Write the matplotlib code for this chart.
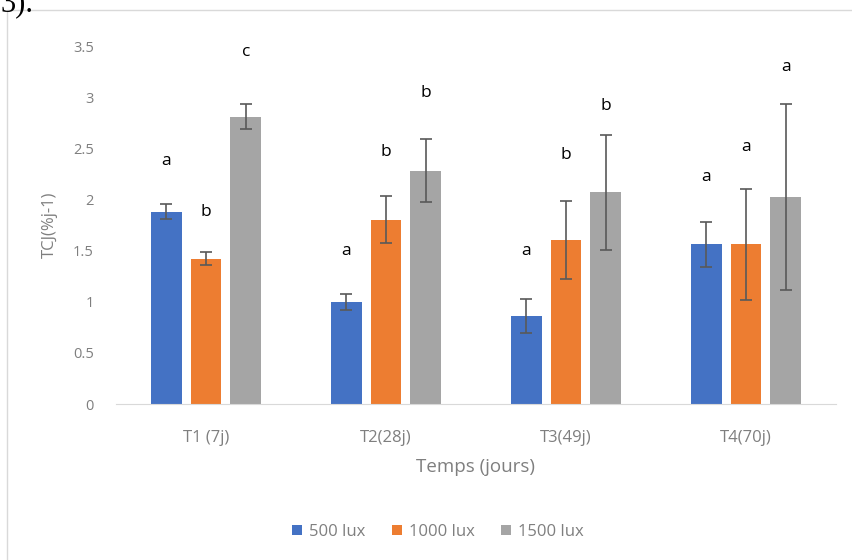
import matplotlib.pyplot as plt
import matplotlib.patches as mpatches
import numpy as np

# données
temps = ['T1 (7j)', 'T2(28j)', 'T3(49j)', 'T4(70j)']
series = ['500 lux', '1000 lux', '1500 lux']
tcj_500 = [1.88, 1.00, 0.86, 1.56]
tcj_1000 = [1.42, 1.80, 1.60, 1.56]
tcj_1500 = [2.81, 2.28, 2.07, 2.02]
err_500 = [0.075, 0.08, 0.17, 0.22]
err_1000 = [0.065, 0.23, 0.38, 0.54]
err_1500 = [0.12, 0.31, 0.56, 0.91]
# lettres de significativité et leur hauteur
lettres_500 = ['a', 'a', 'a', 'a']
lettres_1000 = ['b', 'b', 'b', 'a']
lettres_1500 = ['c', 'b', 'b', 'a']
haut_500 = [2.38, 1.50, 1.50, 2.22]
haut_1000 = [1.88, 2.46, 2.43, 2.51]
haut_1500 = [3.44, 3.04, 2.91, 3.29]

couleurs = ['#4472C4', '#ED7D31', '#A5A5A5']

fig = plt.figure(figsize=(8.53, 5.6), dpi=100)
plt.rcParams['font.family'] = ['Open Sans', 'DejaVu Sans']

# cadre du graphique (style Excel)
fig.patches.append(mpatches.Rectangle((7/853, -0.1), 1.2, (560-10)/560 + 0.1,
                                      transform=fig.transFigure, fill=False,
                                      edgecolor='#D9D9D9', lw=1))
fig.text(0.0, 1.0 - 11/560, '3).', family='Liberation Serif', fontsize=22,
         va='baseline', ha='left', color='black')

ax = fig.add_axes([116/853, (560-404)/560, 720/853, (404-46)/560])
x = np.arange(len(temps))
larg = 0.172
pas = 0.222
vals = [tcj_500, tcj_1000, tcj_1500]
errs = [err_500, err_1000, err_1500]
lettres = [lettres_500, lettres_1000, lettres_1500]
hauts = [haut_500, haut_1000, haut_1500]
for i in range(3):
    pos = x + (i - 1) * pas
    ax.bar(pos, vals[i], width=larg, color=couleurs[i], label=series[i], zorder=2)
    ax.errorbar(pos, vals[i], yerr=errs[i], fmt='none', ecolor='#595959',
                elinewidth=1.2, capsize=4.5, capthick=1.2, zorder=3)
    for xx, lt, h in zip(pos, lettres[i], hauts[i]):
        ax.text(xx, h, lt, ha='center', va='center', fontsize=12.5, color='black',
                clip_on=False)

ax.set_xlim(-0.5, 3.5)
ax.set_ylim(0, 3.5)
ax.set_yticks(np.arange(0, 3.51, 0.5))
ax.set_yticklabels(['0', '0.5', '1', '1.5', '2', '2.5', '3', '3.5'])
ax.set_xticks(x)
ax.set_xticklabels(temps)
ax.tick_params(axis='both', length=0, colors='#7F7F7F')
ax.tick_params(axis='y', labelsize=10.5, pad=16)
ax.tick_params(axis='x', labelsize=12, pad=19)
for s in ['top', 'right', 'left']:
    ax.spines[s].set_visible(False)
ax.spines['bottom'].set_color('#D9D9D9')
ax.set_ylabel('TCJ(%j-1)', fontsize=12, color='#7F7F7F', labelpad=11)
ax.set_xlabel('Temps (jours)', fontsize=13.5, color='#7F7F7F', labelpad=8)

leg = ax.legend(loc='center', bbox_to_anchor=(438/853, (560-532)/560),
                bbox_transform=fig.transFigure, ncol=3, frameon=False,
                fontsize=12, handlelength=0.6, handleheight=0.6,
                handletextpad=0.4, columnspacing=1.6)
for t in leg.get_texts():
    t.set_color('#7F7F7F')

fig.savefig('out.png', dpi=100)
